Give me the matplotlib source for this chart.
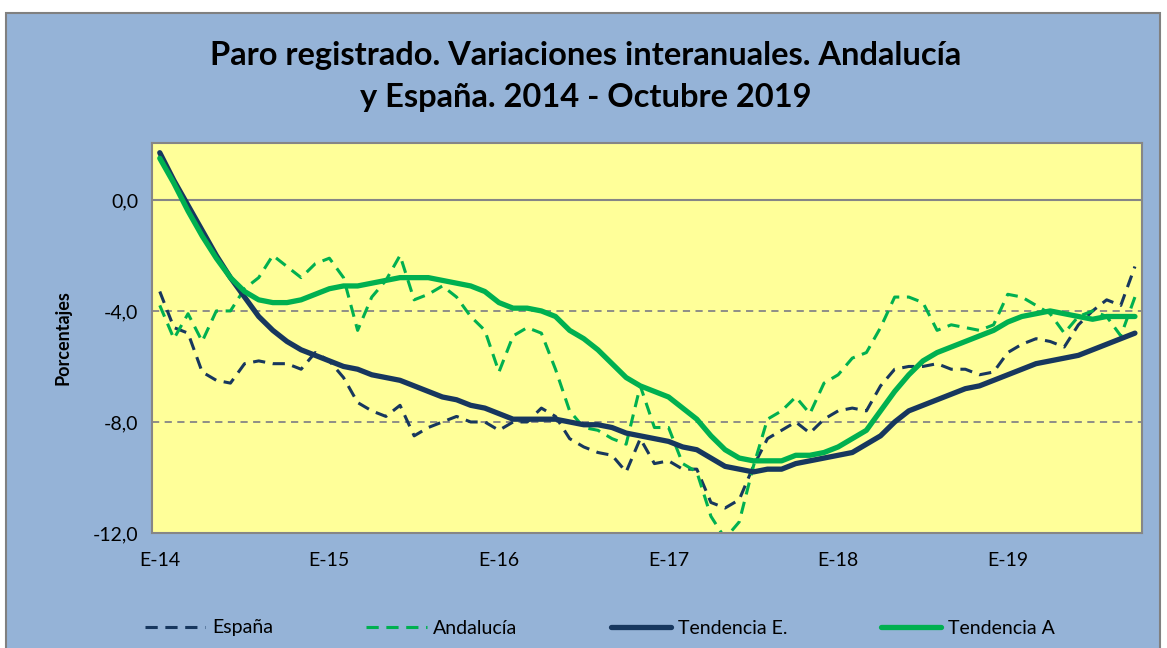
import matplotlib.pyplot as plt
from matplotlib.patches import Rectangle

plt.rcParams['font.family'] = ['Lato', 'DejaVu Sans']

# monthly data, Jan 2014 - Oct 2019
meses = list(range(70))
etiquetas = ['E-14', 'E-15', 'E-16', 'E-17', 'E-18', 'E-19']

espana = [-3.3, -4.6, -4.8, -6.2, -6.5, -6.6, -5.9, -5.8, -5.9, -5.9, -6.1, -5.5,
          -5.8, -6.4, -7.3, -7.6, -7.8, -7.4, -8.5, -8.2, -8.0, -7.8, -8.0, -8.0,
          -8.3, -8.0, -8.0, -7.5, -7.8, -8.6, -8.9, -9.1, -9.2, -9.8, -8.6, -9.5,
          -9.4, -9.7, -9.7, -10.9, -11.1, -10.8, -9.6, -8.6, -8.3, -8.0, -8.4, -7.9,
          -7.6, -7.5, -7.6, -6.7, -6.1, -6.0, -6.0, -5.9, -6.1, -6.1, -6.3, -6.2,
          -5.5, -5.2, -5.0, -5.1, -5.3, -4.5, -4.0, -3.6, -3.8, -2.4]

andalucia = [-3.8, -5.0, -4.1, -5.1, -4.0, -4.0, -3.2, -2.8, -2.0, -2.4, -2.8, -2.3,
             -2.1, -2.8, -4.7, -3.5, -2.9, -2.0, -3.6, -3.4, -3.1, -3.5, -4.2, -4.7,
             -6.2, -4.9, -4.6, -4.8, -6.1, -7.6, -8.2, -8.3, -8.6, -8.8, -6.7, -8.2,
             -8.2, -9.5, -9.8, -11.4, -12.2, -11.6, -9.6, -7.9, -7.6, -7.1, -7.7, -6.6,
             -6.3, -5.7, -5.5, -4.6, -3.5, -3.5, -3.7, -4.7, -4.5, -4.6, -4.7, -4.5,
             -3.4, -3.5, -3.8, -4.1, -4.8, -4.2, -4.0, -4.2, -4.9, -3.5]

tend_e = [1.7, 0.7, -0.2, -1.1, -2.0, -2.8, -3.5, -4.2, -4.7, -5.1, -5.4, -5.6,
          -5.8, -6.0, -6.1, -6.3, -6.4, -6.5, -6.7, -6.9, -7.1, -7.2, -7.4, -7.5,
          -7.7, -7.9, -7.9, -7.9, -7.9, -8.0, -8.1, -8.1, -8.2, -8.4, -8.5, -8.6,
          -8.7, -8.9, -9.0, -9.3, -9.6, -9.7, -9.8, -9.7, -9.7, -9.5, -9.4, -9.3,
          -9.2, -9.1, -8.8, -8.5, -8.0, -7.6, -7.4, -7.2, -7.0, -6.8, -6.7, -6.5,
          -6.3, -6.1, -5.9, -5.8, -5.7, -5.6, -5.4, -5.2, -5.0, -4.8]

tend_a = [1.5, 0.6, -0.4, -1.3, -2.1, -2.8, -3.3, -3.6, -3.7, -3.7, -3.6, -3.4,
          -3.2, -3.1, -3.1, -3.0, -2.9, -2.8, -2.8, -2.8, -2.9, -3.0, -3.1, -3.3,
          -3.7, -3.9, -3.9, -4.0, -4.2, -4.7, -5.0, -5.4, -5.9, -6.4, -6.7, -6.9,
          -7.1, -7.5, -7.9, -8.5, -9.0, -9.3, -9.4, -9.4, -9.4, -9.2, -9.2, -9.1,
          -8.9, -8.6, -8.3, -7.6, -6.9, -6.3, -5.8, -5.5, -5.3, -5.1, -4.9, -4.7,
          -4.4, -4.2, -4.1, -4.0, -4.1, -4.2, -4.3, -4.2, -4.2, -4.2]

azul = '#17375E'
verde = '#00B050'

fig = plt.figure(figsize=(11.67, 6.48), dpi=100)
fig.patch.set_facecolor('white')
fig.patches.append(Rectangle((6 / 1167, -0.01), 1154 / 1167, 1 - 13 / 648 + 0.01,
                             transform=fig.transFigure, facecolor='#95B3D7',
                             edgecolor='#808080', linewidth=1.5, zorder=-10))

ax = fig.add_axes([152 / 1167, 1 - 533 / 648, 990 / 1167, 390 / 648])
ax.set_facecolor('#FFFF99')

ax.axhline(0, color='#868686', linewidth=1.5, zorder=1)
for y in (-4, -8):
    ax.axhline(y, color='#868686', linewidth=1.3, linestyle=(0, (4, 3)), zorder=1)

ax.plot(meses, espana, color=azul, linewidth=2.2, linestyle=(0, (4, 2.5)), label='España')
ax.plot(meses, andalucia, color=verde, linewidth=2.2, linestyle=(0, (4, 2.5)), label='Andalucía')
ax.plot(meses, tend_e, color=azul, linewidth=3.8, label='Tendencia E.', solid_capstyle='round')
ax.plot(meses, tend_a, color=verde, linewidth=3.8, label='Tendencia A', solid_capstyle='round')

ax.set_xlim(-0.55, 69.5)
ax.set_ylim(-12, 2.05)
ax.set_yticks([0, -4, -8, -12])
ax.set_yticklabels(['0,0', '-4,0', '-8,0', '-12,0'], fontsize=14)
ax.set_xticks([0, 12, 24, 36, 48, 60])
ax.set_xticklabels(etiquetas, fontsize=14)
ax.tick_params(length=0, pad=10)
ax.tick_params(axis='x', pad=14)
for s in ax.spines.values():
    s.set_color('#868686')
    s.set_linewidth(1.5)

ax.set_ylabel('Porcentajes', fontsize=13, fontweight='bold', labelpad=15)

fig.text(0.502, 1 - 55 / 648, 'Paro registrado. Variaciones interanuales. Andalucía',
         ha='center', va='center', fontsize=23.5, fontweight='bold')
fig.text(0.502, 1 - 97 / 648, 'y España. 2014 - Octubre 2019',
         ha='center', va='center', fontsize=23.5, fontweight='bold')

fig.legend(loc='center', bbox_to_anchor=(0.514, 1 - 628 / 648), ncol=4, frameon=False,
           fontsize=14, handlelength=3.1, columnspacing=4.8, handletextpad=0.35)

fig.savefig('out.png', dpi=100, facecolor=fig.get_facecolor())
